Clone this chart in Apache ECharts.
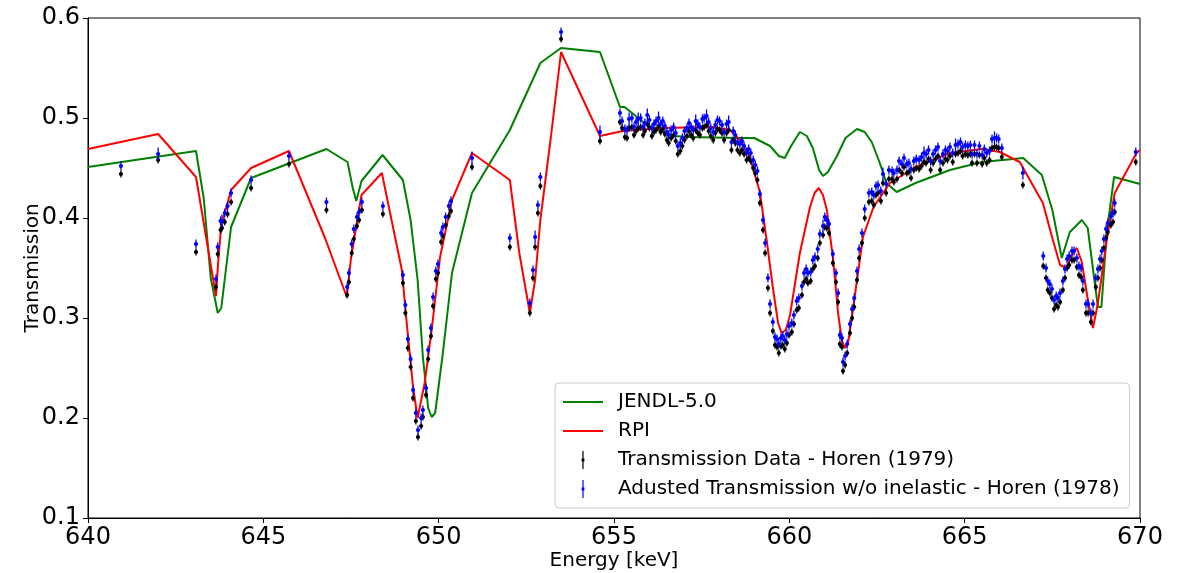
<!DOCTYPE html>
<html lang="en">
<head>
	<meta charset="UTF-8">
	<title>Transmission</title>
	<style>
		*{
			margin: 0;
			padding: 0;
		}
		#chart{
			width: 1189px;
			height: 573px;
			background: #fff;
		}
	</style>
	<script src="https://cdn.jsdelivr.net/npm/echarts@6/dist/echarts.min.js"></script>
</head>
<body>
	<div id="chart"></div>
	<script>
		// evaluated curves [energy keV, transmission]
		var jendl = [
			[640,0.451],[643.08,0.467],[643.3,0.42],[643.5,0.34],[643.7,0.305],[643.8,0.31],[644.08,0.391],[644.65,0.440],
			[646.8,0.469],[647.4,0.456],[647.55,0.43],[647.65,0.417],[647.8,0.437],[648.4,0.463],[648.98,0.438],[649.2,0.398],
			[649.4,0.338],[649.55,0.261],[649.7,0.210],[649.8,0.201],[649.9,0.205],[650.12,0.265],[650.38,0.345],[650.95,0.425],
			[652.03,0.488],[652.9,0.555],[653.49,0.570],[654.6,0.566],[655.17,0.511],[655.3,0.511],[655.94,0.493],[656.7,0.482],
			[657.17,0.481],[658.5,0.480],[659.0,0.480],[659.45,0.472],[659.7,0.462],[659.87,0.460],[660.05,0.472],[660.3,0.486],
			[660.5,0.482],[660.67,0.470],[660.85,0.448],[660.96,0.442],[661.1,0.446],[661.36,0.462],[661.6,0.480],[661.93,0.489],
			[662.15,0.486],[662.35,0.476],[662.58,0.455],[662.77,0.435],[663.06,0.426],[663.6,0.435],[664.58,0.448],[665.5,0.456],
			[666.67,0.460],[667.2,0.443],[667.5,0.408],[667.77,0.360],[668.0,0.386],[668.34,0.398],[668.51,0.390],[668.71,0.335],
			[668.8,0.311],[668.9,0.311],[669.05,0.385],[669.26,0.441],[670,0.434]
		];
		var rpi = [
			[640,0.469],[642.0,0.484],[643.08,0.441],[643.65,0.322],[643.72,0.36],[643.8,0.392],[644.08,0.428],[644.65,0.450],
			[645.73,0.467],[646.76,0.380],[647.38,0.321],[647.5,0.36],[647.8,0.423],[648.38,0.445],[648.95,0.348],[649.1,0.291],
			[649.27,0.231],[649.4,0.200],[649.6,0.235],[649.8,0.288],[650.04,0.361],[650.38,0.418],[650.95,0.465],[652.03,0.438],
			[652.3,0.365],[652.6,0.305],[652.75,0.338],[652.9,0.398],[653.2,0.481],[653.49,0.566],[654.6,0.482],[655.25,0.487],
			[656.4,0.490],[657.8,0.491],[658.3,0.488],[658.6,0.478],[658.87,0.461],[659.16,0.426],[659.36,0.376],[659.54,0.328],
			[659.68,0.295],[659.78,0.285],[659.9,0.288],[660.02,0.303],[660.3,0.365],[660.59,0.411],[660.72,0.425],[660.84,0.430],
			[660.96,0.423],[661.07,0.408],[661.25,0.358],[661.39,0.305],[661.5,0.277],[661.59,0.270],[661.68,0.276],[661.8,0.305],
			[661.93,0.338],[662.1,0.381],[662.4,0.411],[662.87,0.435],[663.6,0.451],[664.58,0.465],[665.5,0.469],[666.0,0.466],
			[666.57,0.456],[667.23,0.415],[667.5,0.38],[667.72,0.353],[667.9,0.350],[668.1,0.366],[668.2,0.370],[668.34,0.356],
			[668.5,0.321],[668.66,0.290],[668.8,0.315],[669.05,0.378],[669.28,0.425],[669.9,0.465],[670,0.468]
		];

		// measured points, shared energies
		var energy = [
			640.94,642.00,643.08,643.65,643.70,643.78,643.82,643.90,643.98,644.08,644.65,645.73,646.80,
			647.39,647.44,647.52,647.58,647.67,647.73,647.81,648.41,648.98,649.05,649.12,649.20,649.27,
			649.35,649.41,649.50,649.55,649.64,649.70,649.78,649.84,649.92,649.98,650.07,650.12,650.20,
			650.29,650.35,650.95,652.03,652.60,652.69,652.75,652.83,652.90,653.49,654.60,
			655.17,655.23,655.31,655.37,655.43,655.51,655.57,655.63,655.69,655.76,655.83,655.88,655.95,
			656.01,656.08,656.14,656.20,656.27,656.33,656.39,656.45,656.51,656.56,656.63,656.70,656.76,
			656.82,656.89,656.95,657.01,657.08,657.14,657.20,657.26,657.33,657.39,657.45,657.52,657.57,
			657.64,657.70,657.76,657.83,657.89,657.95,658.01,658.08,658.14,658.21,658.27,658.35,658.40,
			658.46,658.52,658.59,658.65,658.71,658.78,658.84,658.90,658.97,659.03,659.09,659.16,659.25,
			659.31,659.39,659.45,659.53,659.59,659.65,659.70,659.76,659.81,659.87,659.93,659.99,660.07,
			660.13,660.21,660.27,660.36,660.42,660.48,660.53,660.61,660.67,660.73,660.81,660.87,660.96,
			661.01,661.07,661.13,661.24,661.33,661.39,661.44,661.50,661.53,661.59,661.65,661.73,661.79,
			661.85,661.93,661.99,662.07,662.15,662.27,662.35,662.41,662.47,662.53,662.61,662.67,662.76,
			662.84,662.93,662.98,663.07,663.13,663.21,663.27,663.35,663.41,663.47,663.55,663.62,663.70,
			663.77,663.84,663.90,663.97,664.03,664.10,664.17,664.24,664.30,664.38,664.45,664.51,664.58,
			664.66,664.74,664.81,664.88,664.94,665.02,665.09,665.16,665.21,665.28,665.35,665.42,665.50,
			665.56,665.63,665.71,665.78,665.85,665.91,665.97,666.06,666.66,
			667.24,667.32,667.37,667.43,667.49,667.55,667.61,667.66,667.72,667.80,667.86,667.92,667.98,
			668.06,668.12,668.20,668.26,668.32,668.37,668.46,668.52,668.60,668.66,668.74,668.80,668.86,
			668.91,668.97,669.03,669.08,669.17,669.23,669.28,669.88
		];
		var horen1979 = [
			0.444,0.458,0.366,0.331,0.364,0.388,0.390,0.396,0.404,0.416,0.430,0.454,0.408,
			0.323,0.336,0.365,0.379,0.392,0.398,0.408,0.404,0.335,0.305,0.270,0.251,0.220,
			0.197,0.181,0.192,0.201,0.223,0.259,0.282,0.312,0.339,0.345,0.376,0.382,0.393,
			0.402,0.407,0.451,0.371,0.305,0.340,0.371,0.405,0.432,0.579,0.477,
			0.496,0.490,0.481,0.480,0.490,0.491,0.483,0.487,0.490,0.491,0.483,0.487,0.494,
			0.490,0.482,0.486,0.488,0.492,0.486,0.489,0.484,0.478,0.475,0.480,0.483,0.477,
			0.464,0.467,0.472,0.478,0.482,0.487,0.483,0.480,0.488,0.485,0.483,0.490,0.491,
			0.493,0.487,0.482,0.478,0.485,0.489,0.488,0.485,0.478,0.485,0.488,0.468,0.478,
			0.475,0.468,0.465,0.468,0.464,0.458,0.460,0.457,0.450,0.445,0.438,0.415,0.388,
			0.365,0.330,0.305,0.287,0.273,0.271,0.265,0.272,0.273,0.269,0.275,0.283,0.286,
			0.294,0.308,0.310,0.323,0.336,0.339,0.335,0.337,0.349,0.352,0.360,0.375,0.383,
			0.391,0.390,0.385,0.355,0.336,0.316,0.274,0.271,0.247,0.253,0.265,0.285,0.300,
			0.311,0.338,0.360,0.375,0.400,0.416,0.417,0.413,0.423,0.425,0.417,0.435,0.425,
			0.439,0.439,0.436,0.439,0.448,0.445,0.451,0.445,0.446,0.440,0.448,0.450,0.449,
			0.452,0.456,0.455,0.459,0.448,0.455,0.459,0.462,0.448,0.455,0.459,0.458,0.462,
			0.456,0.464,0.465,0.467,0.462,0.464,0.463,0.464,0.455,0.464,0.455,0.463,0.454,
			0.460,0.455,0.458,0.470,0.471,0.471,0.470,0.461,0.433,
			0.352,0.340,0.328,0.325,0.320,0.309,0.313,0.311,0.316,0.328,0.340,0.350,0.353,
			0.358,0.358,0.351,0.343,0.341,0.328,0.305,0.305,0.296,0.305,0.331,0.340,0.350,
			0.358,0.370,0.380,0.386,0.393,0.396,0.406,0.456
		];
		var horen1978 = [
			0.452,0.464,0.374,0.339,0.371,0.397,0.397,0.405,0.412,0.425,0.438,0.462,0.416,
			0.331,0.345,0.374,0.389,0.401,0.406,0.416,0.412,0.343,0.313,0.279,0.259,0.228,
			0.205,0.188,0.200,0.208,0.230,0.268,0.290,0.321,0.347,0.354,0.385,0.391,0.401,
			0.412,0.417,0.460,0.380,0.315,0.348,0.381,0.413,0.441,0.586,0.486,
			0.505,0.497,0.489,0.488,0.499,0.500,0.491,0.496,0.499,0.500,0.491,0.495,0.503,
			0.498,0.490,0.494,0.497,0.500,0.494,0.497,0.492,0.486,0.483,0.488,0.491,0.485,
			0.472,0.475,0.480,0.487,0.490,0.495,0.491,0.488,0.497,0.494,0.491,0.499,0.500,
			0.502,0.496,0.490,0.486,0.493,0.498,0.497,0.493,0.486,0.494,0.496,0.476,0.487,
			0.483,0.476,0.474,0.477,0.472,0.466,0.469,0.465,0.458,0.453,0.447,0.424,0.398,
			0.375,0.340,0.314,0.296,0.281,0.279,0.274,0.280,0.282,0.278,0.284,0.292,0.295,
			0.303,0.317,0.320,0.332,0.345,0.349,0.345,0.346,0.358,0.361,0.369,0.384,0.392,
			0.401,0.398,0.394,0.364,0.345,0.325,0.283,0.280,0.256,0.262,0.274,0.294,0.309,
			0.320,0.347,0.369,0.385,0.409,0.425,0.426,0.423,0.432,0.433,0.427,0.444,0.434,
			0.448,0.447,0.445,0.448,0.457,0.454,0.460,0.454,0.455,0.449,0.457,0.459,0.458,
			0.461,0.465,0.464,0.468,0.457,0.464,0.468,0.471,0.457,0.464,0.468,0.467,0.471,
			0.465,0.473,0.474,0.476,0.471,0.473,0.472,0.473,0.464,0.473,0.464,0.472,0.463,
			0.469,0.465,0.467,0.479,0.480,0.480,0.479,0.470,0.445,
			0.362,0.350,0.337,0.334,0.329,0.318,0.322,0.320,0.325,0.337,0.349,0.359,0.362,
			0.367,0.367,0.360,0.352,0.350,0.337,0.314,0.314,0.305,0.314,0.340,0.349,0.359,
			0.367,0.379,0.389,0.395,0.402,0.405,0.415,0.466
		];
		// half-length of the error bars
		var err1979 = 0.0035;
		var err1978 = 0.0045;
		var err1978Wide = 0.0065;
		var wide1978 = [642.00,643.82,650.95,652.75,654.60,655.43,655.69,655.95,656.27,657.33,657.64,658.27,
			660.96,662.67,663.84,664.74,665.85,666.66];

		var xTicks = { min: 640, max: 670, step: 5 };
		var yTicks = { min: 0.1, max: 0.6, step: 0.1 };

		var FONT = 'DejaVu Sans';
		var lineIcon = 'path://M0,0M50,20M0,9L40,9L40,11L0,11Z';
		var barIcon = 'path://M0,0M50,20M19.4,1L20.6,1L20.6,19L19.4,19ZM18.6,8.6L21.4,8.6L21.4,11.4L18.6,11.4Z';

		var chart = echarts.init(document.getElementById('chart'));

		function errorBars(color, r) {
			return function (params, api) {
				var x = api.value(0), y = api.value(1), h = api.value(2);
				var top = api.coord([x, y + h]);
				var bot = api.coord([x, y - h]);
				var mid = api.coord([x, y]);
				return {
					type: 'group',
					children: [
						{ type: 'line', shape: { x1: top[0], y1: top[1], x2: bot[0], y2: bot[1] },
							style: { stroke: color, lineWidth: 1.3 } },
						{ type: 'circle', shape: { cx: mid[0], cy: mid[1], r: r },
							style: { fill: color } }
					]
				};
			};
		}

		var pts1979 = energy.map(function (e, i) { return [e, horen1979[i], err1979]; });
		var pts1978 = energy.map(function (e, i) {
			return [e, horen1978[i], wide1978.indexOf(e) >= 0 ? err1978Wide : err1978];
		});

		var option = {
			animation: false,
			backgroundColor: '#fff',
			grid: {
				left: 88, right: 49, top: 18, bottom: 55,
				outerBoundsMode: 'none',
				show: true, borderColor: '#000', borderWidth: 1
			},
			legend: {
				orient: 'vertical',
				left: 555, top: 383,
				padding: [9, 10, 9, 8],
				itemWidth: 50, itemHeight: 20, itemGap: 9,
				backgroundColor: 'rgba(255,255,255,0.8)',
				borderColor: '#cccccc', borderWidth: 1, borderRadius: 4,
				itemStyle: { borderWidth: 0 },
				textStyle: { fontFamily: FONT, fontSize: 20, color: '#000', lineHeight: 20 },
				data: [
					{ name: 'JENDL-5.0', icon: lineIcon },
					{ name: 'RPI', icon: lineIcon },
					{ name: 'Transmission Data - Horen (1979)', icon: barIcon },
					{ name: 'Adusted Transmission w/o inelastic - Horen (1978)', icon: barIcon }
				]
			},
			xAxis: {
				type: 'value',
				min: xTicks.min, max: xTicks.max, interval: xTicks.step,
				name: 'Energy [keV]', nameLocation: 'middle', nameGap: 33, nameMoveOverlap: false,
				nameTextStyle: { fontFamily: FONT, fontSize: 20, color: '#000' },
				axisLine: { show: true, lineStyle: { color: '#000', width: 1 } },
				axisTick: { show: true, length: 5, lineStyle: { color: '#000' } },
				axisLabel: { fontFamily: FONT, fontSize: 24, color: '#000', margin: 8 },
				splitLine: { show: false }
			},
			yAxis: {
				type: 'value',
				min: yTicks.min, max: yTicks.max, interval: yTicks.step,
				name: 'Transmission', nameLocation: 'middle', nameGap: 45, nameMoveOverlap: false,
				nameTextStyle: { fontFamily: FONT, fontSize: 20, color: '#000' },
				axisLine: { show: true, lineStyle: { color: '#000', width: 1 } },
				axisTick: { show: true, length: 5, lineStyle: { color: '#000' } },
				axisLabel: { fontFamily: FONT, fontSize: 24, color: '#000', margin: 8,
					formatter: function (v) { return v.toFixed(1); } },
				splitLine: { show: false }
			},
			series: [
				{
					name: 'JENDL-5.0', type: 'line', data: jendl, symbol: 'none',
					lineStyle: { color: '#008000', width: 2 }, itemStyle: { color: '#008000' }, z: 2
				},
				{
					name: 'RPI', type: 'line', data: rpi, symbol: 'none',
					lineStyle: { color: '#ff0000', width: 2 }, itemStyle: { color: '#ff0000' }, z: 3
				},
				{
					name: 'Transmission Data - Horen (1979)', type: 'custom',
					renderItem: errorBars('#000000', 2.1), data: pts1979,
					itemStyle: { color: '#000000' }, encode: { x: 0, y: 1 }, z: 4
				},
				{
					name: 'Adusted Transmission w/o inelastic - Horen (1978)', type: 'custom',
					renderItem: errorBars('#0000ff', 2.1), data: pts1978,
					itemStyle: { color: '#0000ff' }, encode: { x: 0, y: 1 }, z: 5
				}
			]
		};
		chart.setOption(option);
	</script>
</body>
</html>
